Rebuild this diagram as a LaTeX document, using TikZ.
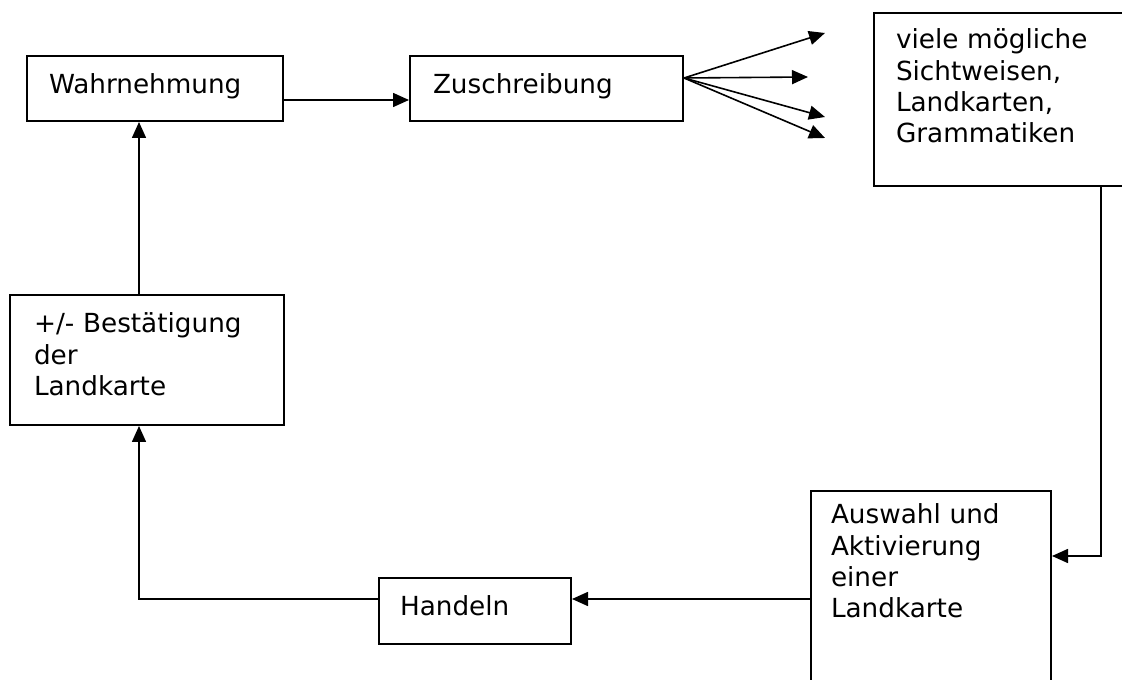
\documentclass[tikz,border=0pt]{standalone}
\usepackage{fontspec}
\setmainfont{DejaVu Sans}
\usetikzlibrary{arrows.meta}
\begin{document}
\begin{tikzpicture}[x=0.75pt,y=-0.75pt,
    box/.style={draw, line width=1.5pt, anchor=north west, align=left, inner ysep=0pt,
        font=\fontsize{19.7pt}{23.4pt}\selectfont},
    arr/.style={line width=1.2pt, -{Triangle[length=12pt,width=10.5pt]}}]
    \useasboundingbox (0,0) rectangle (1122,680);
    \node[box, inner xsep=16.5pt, text width=159pt, text height=28.5pt, text depth=20.25pt] (wahr) at (26,55) {Wahrnehmung};
    \node[box, inner xsep=17.25pt, text width=170.25pt, text height=28.5pt, text depth=20.25pt] (zusch) at (409,55) {Zuschreibung};
    \node[box, inner xsep=16.5pt, text width=159.75pt, text height=27pt, text depth=102.75pt] (viele) at (873,12) {viele mögliche\\Sichtweisen,\\Landkarten,\\Grammatiken};
    \node[box, inner xsep=18pt, text width=169.5pt, text height=28.5pt, text depth=69pt] (bestaet) at (9,294) {+/- Bestätigung\\der\\Landkarte};
    \node[box, inner xsep=15pt, text width=150pt, text height=24.75pt, text depth=125.25pt] (auswahl) at (810,490) {Auswahl und\\Aktivierung\\einer\\Landkarte};
    \node[box, inner xsep=15.75pt, text width=112.5pt, text height=28.5pt, text depth=21pt] (handeln) at (378,577) {Handeln};
    \coordinate (wz) at ([shift={(0,11.5)}]wahr.east);
    \draw[arr] (wz) -- (wz -| zusch.west);
    \coordinate (fan) at ([shift={(0,-10.5)}]zusch.east);
    \foreach \p in {(825,33),(808,77),(825,117),(825,138)}
        \draw[arr] (fan) -- \p;
    \draw[arr] ([shift={(98.5,0)}]viele.south) |- ([shift={(0,-35)}]auswahl.east);
    \coordinate (ah) at ([shift={(0,8)}]auswahl.west);
    \draw[arr] (ah) -- (ah -| handeln.east);
    \draw[arr] (ah -| handeln.west) -| ([shift={(-8,0)}]bestaet.south);
    \draw[arr] ([shift={(-8,0)}]bestaet.north) -- ([shift={(-16,0)}]wahr.south);
\end{tikzpicture}
\end{document}
